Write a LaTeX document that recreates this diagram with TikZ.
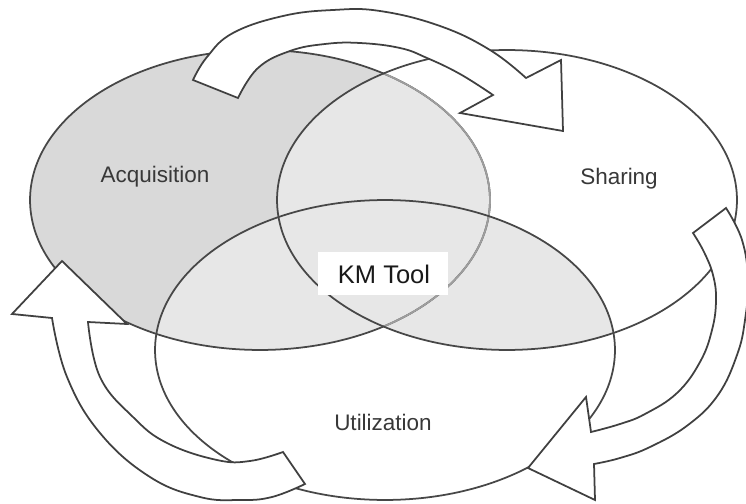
\documentclass[tikz,border=0pt]{standalone}
\usepackage{fontspec}
\setmainfont{Liberation Sans}
\definecolor{gA}{HTML}{D9D9D9}
\definecolor{gB}{HTML}{E7E7E7}
\begin{document}
\begin{tikzpicture}[x=0.02cm,y=-0.02cm,
  edge/.style={draw=black!72, line width=1pt},
  faint/.style={draw=black!38, line width=1pt},
  arrowbox/.style={draw=black!75, fill=white, line width=1pt, line join=miter},
  lbl/.style={font=\fontsize{12.8}{15}\selectfont, text=black!78, anchor=base, inner sep=0pt},
  kmbox/.style={fill=white, minimum width=2.6cm, minimum height=0.86cm, inner sep=0pt}]
\useasboundingbox (0,0) rectangle (746,503);
\def\pAcq{(260,200) ellipse [x radius=4.6cm, y radius=3cm]}
\def\pSha{(507,200) ellipse [x radius=4.6cm, y radius=3cm]}
\def\pUti{(385,350) ellipse [x radius=4.6cm, y radius=3cm]}
% fills
\fill[gA] \pAcq;
\begin{scope}
  \clip \pAcq;
  \fill[gB] \pSha;
  \fill[gB] \pUti;
\end{scope}
\begin{scope}
  \clip \pSha;
  \fill[gB] \pUti;
\end{scope}
% outlines
\draw[edge] \pAcq;
\begin{scope}
  \clip \pSha;
  \draw[faint] \pAcq;
\end{scope}
\draw[edge] \pSha;
\draw[edge] \pUti;
% labels
\node[kmbox] (kmbg) at (383,273.5) {};
\node[font=\fontsize{14.5}{17}\selectfont, text=black!90, anchor=base, inner sep=0pt] (km) at (384,283) {KM Tool};
\node[lbl] (acq) at (155,182.5) {Acquisition};
\node[lbl] (sha) at (619,184) {Sharing};
\node[lbl] (uti) at (383,430) {Utilization};
% curved block arrows
\draw[arrowbox] plot[smooth, tension=0.7] coordinates {(193,80) (207,57) (233,33) (283,16) (333,10) (380,11) (440,26) (490,50) (526,78)}
  -- (561,60) -- (563,131) -- (460,113)
  -- plot[smooth, tension=0.7] coordinates {(493,95) (460,74) (427,58) (400,48) (360,43) (325,44) (290,51) (258,68) (238,98)} -- cycle;
\draw[arrowbox] plot[smooth, tension=0.7] coordinates {(726,208) (742,240) (748,280) (745,320) (737,355) (718,395) (688,425) (650,447) (620,458) (594,464)}
  -- (595,500) -- (528,468) -- (586,397)
  -- plot[smooth, tension=0.7] coordinates {(591,432) (620,424) (645,414) (677,393) (700,362) (712,330) (716,300) (713,275) (704,252) (693,233)} -- cycle;
\draw[arrowbox] plot[smooth, tension=0.7] coordinates {(305,484) (272,497) (240,500) (200,497) (150,477) (100,433) (67,377) (52,318)}
  -- (12,314) -- (62,261) -- (127,324)
  -- plot[smooth, tension=0.7] coordinates {(88,322) (100,377) (133,417) (167,443) (217,460) (250,461) (283,452)} -- cycle;
\end{tikzpicture}
\end{document}
